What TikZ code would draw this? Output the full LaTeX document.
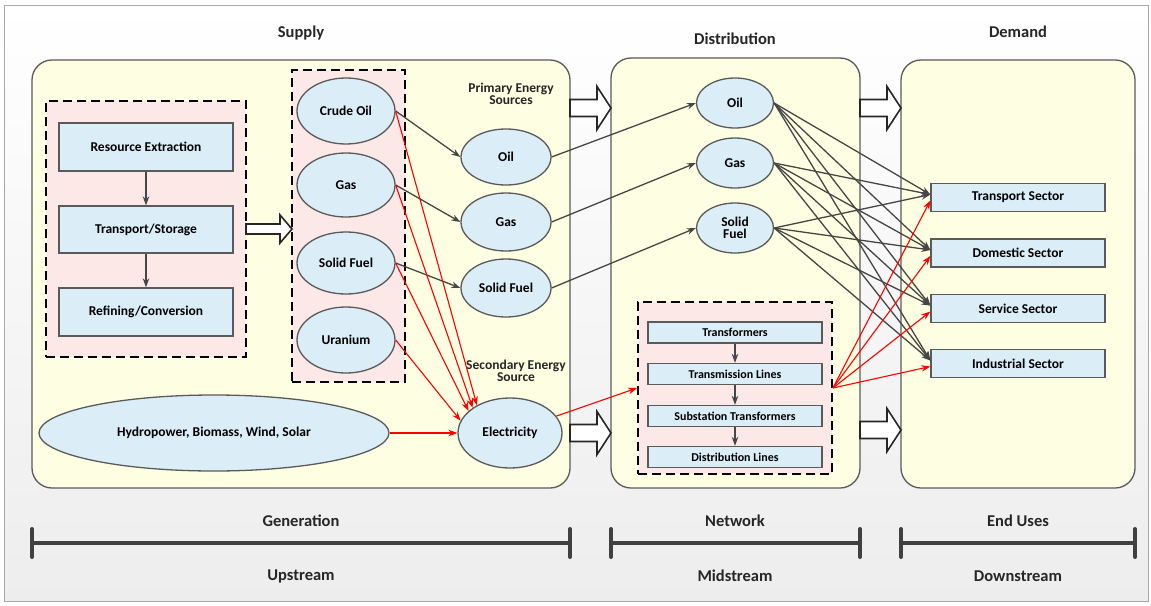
\documentclass[tikz,border=0pt]{standalone}
\usepackage{fontspec}
\setmainfont{Carlito}
\usetikzlibrary{arrows.meta,calc,shapes.geometric}

\definecolor{creamfill}{HTML}{FEFEE2}
\definecolor{pinkfill}{HTML}{FCE8E6}
\definecolor{bluefill}{HTML}{DBEEF8}
\definecolor{edgegray}{HTML}{5A5A5A}
\definecolor{linegray}{HTML}{464646}
\definecolor{bargray}{HTML}{404040}
\definecolor{framegray}{HTML}{A8A8A8}

\newcommand{\lbl}[1]{\bfseries\fontsize{#1}{#1}\selectfont}

\tikzset{
  stage/.style={draw=edgegray, line width=1.3pt, fill=creamfill, rounded corners=20pt, inner sep=0pt},
  group/.style={draw=black, line width=1.8pt, dash pattern=on 9pt off 5pt, fill=pinkfill, inner sep=0pt},
  stepbox/.style={draw=edgegray, line width=1.3pt, fill=bluefill, inner sep=0pt,
    minimum width=174pt, font=\lbl{13.5}},
  netbox/.style={draw=edgegray, line width=1.3pt, fill=bluefill, inner sep=0pt,
    minimum width=174pt, minimum height=21pt, font=\lbl{12}},
  sector/.style={draw=edgegray, line width=1.3pt, fill=bluefill, inner sep=0pt,
    minimum width=174pt, minimum height=28pt, font=\lbl{13.5}},
  fuel/.style={ellipse, draw=edgegray, line width=1.3pt, fill=bluefill, inner sep=0pt,
    font=\lbl{13.5}, align=center},
  title/.style={font=\lbl{16.5}, text=black!85},
  note/.style={font=\lbl{13.5}, align=center, text=black!85},
  flow/.style={draw=linegray, line width=1.3pt, -{Stealth[length=9pt,width=6.5pt]}},
  elink/.style={draw=red, line width=1.1pt, -{Stealth[length=9pt,width=6.5pt]}},
  hollow/.style={draw=black!85, line width=1.6pt, fill=white, line join=miter},
  bar/.style={draw=bargray, line width=4pt, line cap=round},
}

% hollow block arrow: x-start, x-end, y-centre, shaft half height, head half height, head length
\newcommand{\blockarrow}[6]{%
  \draw[hollow] (#1,#3-#4) -- (#2-#6,#3-#4) -- (#2-#6,#3-#5) -- (#2,#3)
    -- (#2-#6,#3+#5) -- (#2-#6,#3+#4) -- (#1,#3+#4) -- cycle;}

\begin{document}
\begin{tikzpicture}[x=1pt,y=-1pt]
  \useasboundingbox (0,0) rectangle (1151,605);
  % frame
  \shade[top color=white, bottom color=black!7, draw=framegray, line width=1pt]
    (4,5) rectangle (1148,601);

  % stage panels
  \node[stage, minimum width=538pt, minimum height=428pt] (supply) at (301,274) {};
  \node[stage, minimum width=249pt, minimum height=430pt] (distb) at (735.5,273) {};
  \node[stage, minimum width=234pt, minimum height=428pt] (demandb) at (1018,274) {};

  % titles
  \node[title] (tsupply) at (301,33) {Supply};
  \node[title] (tdist) at (735,39) {Distribution};
  \node[title] (tdemand) at (1018,32) {Demand};

  % dashed groups
  \node[group, minimum width=200pt, minimum height=256pt] (gLeft) at (146,229) {};
  \node[group, minimum width=113pt, minimum height=312pt] (gMid) at (348.5,226) {};
  \node[group, minimum width=194pt, minimum height=172pt] (gNet) at (735,388) {};

  % upstream process chain
  \node[stepbox, minimum height=48pt] (extract) at (146,147) {Resource Extraction};
  \node[stepbox, minimum height=47pt] (storage) at (146,229.5) {Transport/Storage};
  \node[stepbox, minimum height=48pt] (refine) at (146,312) {Refining/Conversion};
  \draw[flow] (extract) -- (storage);
  \draw[flow] (storage) -- (refine);

  % raw resources
  \node[fuel, minimum width=98pt, minimum height=66pt] (crude) at (346,111) {Crude Oil};
  \node[fuel, minimum width=98pt, minimum height=64pt] (gas1) at (346,185) {Gas};
  \node[fuel, minimum width=98pt, minimum height=62pt] (solid1) at (346,263) {Solid Fuel};
  \node[fuel, minimum width=98pt, minimum height=66pt] (uranium) at (346,340) {Uranium};

  % primary / secondary sources
  \node[note] (tprim) at (511,94) {Primary Energy\\[-1pt]Sources};
  \node[fuel, minimum width=90pt, minimum height=56pt] (oilP) at (506,157) {Oil};
  \node[fuel, minimum width=90pt, minimum height=58pt] (gasP) at (506,222) {Gas};
  \node[fuel, minimum width=90pt, minimum height=58pt] (solidP) at (506,288) {Solid Fuel};
  \node[note] (tsec) at (516,371) {Secondary Energy\\[-1pt]Source};
  \node[fuel, minimum width=104pt, minimum height=70pt] (elec) at (510,433) {Electricity};
  \node[fuel, minimum width=350pt, minimum height=76pt] (renew) at (214,433) {Hydropower, Biomass, Wind, Solar};

  % distribution carriers
  \node[fuel, minimum width=77pt, minimum height=50pt] (oilD) at (735,103) {Oil};
  \node[fuel, minimum width=77pt, minimum height=50pt] (gasD) at (735,163) {Gas};
  \node[fuel, minimum width=77pt, minimum height=50pt] (solidD) at (735,228) {Solid\\[-2pt]Fuel};

  % electricity network
  \node[netbox] (trans) at (735,332.5) {Transformers};
  \node[netbox] (tlines) at (735,374) {Transmission Lines};
  \node[netbox] (subst) at (735,416) {Substation Transformers};
  \node[netbox] (dlines) at (735,457) {Distribution Lines};
  \draw[flow] (trans) -- (tlines);
  \draw[flow] (tlines) -- (subst);
  \draw[flow] (subst) -- (dlines);

  % end-use sectors
  \node[sector] (transport) at (1018,197.5) {Transport Sector};
  \node[sector] (domestic) at (1018,253) {Domestic Sector};
  \node[sector] (service) at (1018,308.5) {Service Sector};
  \node[sector] (industrial) at (1018,363.5) {Industrial Sector};

  % block arrows between stages
  \blockarrow{246}{292}{229}{5}{14}{12}
  \blockarrow{570}{611}{108}{8.5}{21.5}{14}
  \blockarrow{570}{611}{433}{8.5}{21.5}{14}
  \blockarrow{860}{901}{108}{8.5}{21.5}{14}
  \blockarrow{860}{901}{430}{8.5}{21.5}{14}

  % refining to primary fuels
  \draw[flow] (crude.east) -- (oilP.west);
  \draw[flow] (gas1.east) -- (gasP.west);
  \draw[flow] (solid1.east) -- (solidP.west);

  % generation of electricity
  \draw[elink] (crude.east) -- (elec.140);
  \draw[elink] (gas1.east) -- (elec.146);
  \draw[elink] (solid1.east) -- (elec.152);
  \draw[elink] (uranium.east) -- (elec.166);
  \draw[elink] (renew.east) -- (elec.west);

  % supply to distribution
  \draw[flow] (oilP.east) -- (oilD.west);
  \draw[flow] (gasP.east) -- (gasD.west);
  \draw[flow] (solidP.east) -- (solidD.west);
  \draw[elink] (elec.20) -- (gNet.west);

  % distribution to end uses
  \foreach \src in {oilD,gasD,solidD}{
    \foreach \dst in {transport,domestic,service,industrial}{
      \draw[flow] (\src.east) -- ([yshift=3pt]\dst.west);
    }
  }
  \foreach \dst in {transport,domestic,service,industrial}{
    \draw[elink] (gNet.east) -- ([yshift=-3pt]\dst.west);
  }

  % value-chain scale
  \node[title] (tgen) at (301,521) {Generation};
  \node[title] (tup) at (301,576) {Upstream};
  \node[title] (tnet) at (735,521) {Network};
  \node[title] (tmid) at (735,576) {Midstream};
  \node[title] (tend) at (1018,521) {End Uses};
  \node[title] (tdown) at (1018,576) {Downstream};
  \foreach \a/\b in {32/570, 611/860, 901/1135}{
    \draw[bar] (\a,543) -- (\b,543);
    \draw[bar] (\a,529) -- (\a,557);
    \draw[bar] (\b,529) -- (\b,557);
  }
\end{tikzpicture}
\end{document}
